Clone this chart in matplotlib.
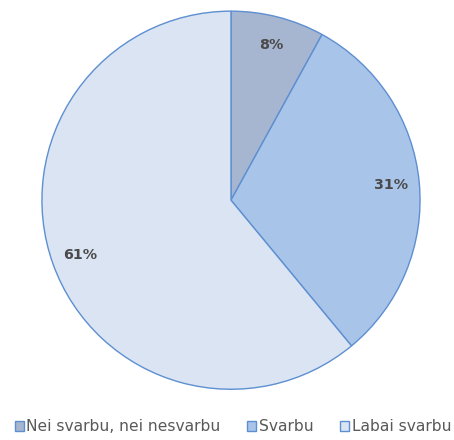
import matplotlib
matplotlib.use("Agg")
from matplotlib import pyplot as plt
from matplotlib.patches import Patch

labels = ["Nei svarbu, nei nesvarbu", "Svarbu", "Labai svarbu"]
values = [8, 31, 61]
colors = ["#a6b6d0", "#a9c4e9", "#dae4f3"]
edge = "#5d8fd1"

fig = plt.figure(figsize=(4.54, 4.40), dpi=100)
ax = fig.add_axes([0.0903, 0.113, 0.837, 0.864])

wedges, texts, autotexts = ax.pie(
    values, colors=colors, startangle=90, counterclock=False,
    autopct="%d%%", pctdistance=0.85,
    wedgeprops=dict(edgecolor=edge, linewidth=1.0),
    textprops=dict(fontsize=10.3, color="#4a4a4a", fontweight="bold"))
ax.set_aspect("equal")
ax.set_xlim(-1.005, 1.005)
ax.set_ylim(-1.005, 1.005)

handles = [Patch(facecolor=c, edgecolor=edge, linewidth=1.0) for c in colors]
fig.legend(handles, labels, loc="center", bbox_to_anchor=(0.513, 0.03),
           ncol=3, frameon=False, fontsize=11.2, labelcolor="#595959",
           handlelength=0.6, handleheight=0.6, handletextpad=0.15,
           columnspacing=1.7)

fig.savefig("out.png", dpi=100)
